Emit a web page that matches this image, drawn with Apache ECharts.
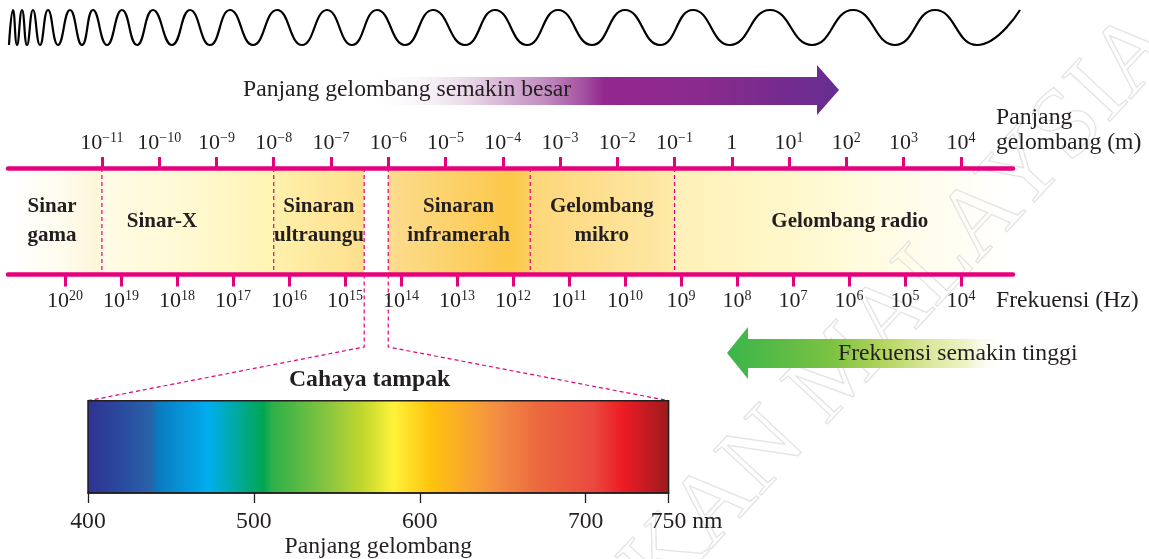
<!DOCTYPE html>
<html><head><meta charset="utf-8">
<script src="https://cdn.jsdelivr.net/npm/echarts@6/dist/echarts.min.js"></script>
<style>html,body{margin:0;padding:0;background:#fff}#c{width:1149px;height:559px}</style>
</head><body><div id="c"></div>
<script>
// ---------------- DATA ----------------
const wavelengthTickExp = [-11,-10,-9,-8,-7,-6,-5,-4,-3,-2,-1,0,1,2,3,4];
const frequencyTickExp = [20,19,18,17,16,15,14,13,12,11,10,9,8,7,6,5,4];
const regionNames = ['Sinar\ngama','Sinar-X','Sinaran\nultraungu','Sinaran\ninframerah','Gelombang\nmikro','Gelombang radio'];
const regionFromExp = [-12.64,-11,-8,-6.0,-3.52,-1];
const regionToExp   = [-11,-8,-6.42,-3.52,-1,4.91];
const regionLabelExp = [-11.87,-9.95,-7.21,-4.77,-2.27,2.06];
const boundaryExp = [-11,-8,-6.42,-6.0,-3.52,-1];
const visibleBandExp = [-6.42,-6.0];
const visibleTickNm = [400,500,600,700,750];
const visibleRangeNm = [400,750];
const spectrumNm = [400,421,438,443,473,506,511,546,566,584,607,634,648,670,704,722,750];
const spectrumColors = ['#2e3192','#2b4b9f','#2862a8','#0b7cc1','#00aeef','#00a651','#2cb04a','#8dc63f','#c2d82e','#fff23a','#ffc20e','#f7a035','#f38b45','#ec6a3e','#ea4a3f','#ed1c24','#9b1b1e'];
const wavePeakX = [13,22,33,48,70,93,122,153,190,230,277,327,377,433,495,558,625,693,770,853,935,1020];
const waveTroughX = [9,17,27,40,58,82,107,137,172,210,253,302,352,405,465,527,592,660,730,812,895,977];

// ---------------- STYLE ----------------
const SERIF = "'Liberation Serif', 'Times New Roman', serif";
const TXT = '#231f20';
const PINK = '#e6007e';
const FS = 23.7;
const bandStops = [
  [[0,'#ffffff'],[0.55,'#fffcf0'],[1,'#fdf5d6']],
  [[0,'#fffbe6'],[0.5,'#fff9d2'],[1,'#fff4b2']],
  [[0,'#fff1ac'],[1,'#fddf8c']],
  [[0,'#fddc8f'],[0.85,'#fcc84a'],[1,'#fdce5e']],
  [[0,'#fdd678'],[1,'#fee9a8']],
  [[0,'#fef1b8'],[0.3,'#fff7c8'],[0.7,'#fffdea'],[1,'#ffffff']]
];
function grad(stops){
  return {type:'linear',x:0,y:0,x2:1,y2:0,colorStops:stops.map(s=>({offset:s[0],color:s[1]}))};
}
function sup(e){
  e = Math.round(e);
  if (e === 0) return '{b|1}';
  return '{b|10}{s|' + (e < 0 ? '\u2212' + (-e) : e) + '}';
}
const richExp = {
  b:{fontSize:22,fontFamily:SERIF,color:TXT,lineHeight:24},
  s:{fontSize:14,fontFamily:SERIF,color:TXT,lineHeight:14,verticalAlign:'top'}
};

const wavePts = [];
wavePeakX.forEach(x=>wavePts.push([x,1]));
waveTroughX.forEach(x=>wavePts.push([x,0]));
wavePts.sort((a,b)=>a[0]-b[0]);

const chart = echarts.init(document.getElementById('c'), null, {renderer:'canvas'});

const option = {
  animation:false,
  backgroundColor:'#ffffff',
  textStyle:{fontFamily:SERIF,color:TXT},
  title:{text:'Cahaya tampak',left:284,top:363,textStyle:{fontFamily:SERIF,fontWeight:'bold',fontSize:FS,color:TXT}},
  grid:[
    {left:8,right:136,top:168,height:106.5,outerBoundsMode:'none',containLabel:false},
    {left:88,right:480.4,top:400.7,height:92.3,outerBoundsMode:'none',containLabel:false},
    {left:0,right:0,top:10,height:35,outerBoundsMode:'none',containLabel:false}
  ],
  xAxis:[
    {gridIndex:0,type:'value',position:'top',min:-12.64,max:4.91,z:10,
     axisLine:{show:true,onZero:false,lineStyle:{color:PINK,width:4.5}},
     axisTick:{show:true,customValues:wavelengthTickExp,length:11,lineStyle:{color:PINK,width:3}},
     axisLabel:{show:true,customValues:wavelengthTickExp,formatter:v=>sup(v),margin:13,rich:richExp},
     splitLine:{show:false},
     name:'Panjang\ngelombang (m)',nameLocation:'end',nameGap:-17,nameMoveOverlap:false,
     nameTextStyle:{fontFamily:SERIF,fontSize:FS,color:TXT,align:'left',verticalAlign:'bottom',lineHeight:25,padding:[0,0,13,0]}
    },
    {gridIndex:0,type:'value',position:'bottom',min:-21.018,max:-3.071,z:10,
     axisLine:{show:true,onZero:false,lineStyle:{color:PINK,width:4.5}},
     axisTick:{show:true,customValues:frequencyTickExp.map(f=>-f),length:12,lineStyle:{color:PINK,width:3}},
     axisLabel:{show:true,customValues:frequencyTickExp.map(f=>-f),formatter:v=>sup(-v),margin:15,rich:richExp},
     splitLine:{show:false},
     name:'Frekuensi (Hz)',nameLocation:'end',nameGap:-17,nameMoveOverlap:false,
     nameTextStyle:{fontFamily:SERIF,fontSize:FS,color:TXT,align:'left',verticalAlign:'top',lineHeight:25,padding:[14,0,0,0]}
    },
    {gridIndex:1,type:'value',position:'bottom',min:visibleRangeNm[0],max:visibleRangeNm[1],z:10,
     axisLine:{show:true,onZero:false,lineStyle:{color:TXT,width:1.5}},
     axisTick:{show:true,customValues:visibleTickNm,length:10,lineStyle:{color:TXT,width:1.3}},
     axisLabel:{show:true,customValues:visibleTickNm,margin:17,fontFamily:SERIF,fontSize:FS,color:TXT,
       formatter:v=> v===visibleRangeNm[1] ? '{p|x}'+v+'{u| nm}' : ''+v,
       rich:{p:{width:36,color:'transparent',fontSize:FS,fontFamily:SERIF},u:{fontSize:FS,fontFamily:SERIF,color:TXT}}},
     splitLine:{show:false},
     name:'Panjang gelombang',nameLocation:'middle',nameGap:42,nameMoveOverlap:false,
     nameTextStyle:{fontFamily:SERIF,fontSize:FS,color:TXT}
    },
    {gridIndex:2,type:'value',min:0,max:1149,show:false}
  ],
  yAxis:[
    {gridIndex:0,type:'value',min:0,max:1,show:false},
    {gridIndex:1,type:'value',min:0,max:1,show:false},
    {gridIndex:2,type:'value',min:0,max:1,show:false}
  ],
  series:[
    {type:'custom',name:'bands',xAxisIndex:0,yAxisIndex:0,
     data:regionNames.map((n,i)=>[regionFromExp[i],regionToExp[i],regionLabelExp[i],i]),
     renderItem:(params,api)=>{
       const i = api.value(3);
       const p0 = api.coord([api.value(0),1]);
       const p1 = api.coord([api.value(1),0]);
       const lab = api.coord([api.value(2),0.5]);
       return {type:'group',children:[
         {type:'rect',shape:{x:p0[0],y:p0[1],width:p1[0]-p0[0],height:p1[1]-p0[1]},style:{fill:grad(bandStops[i])}},
         {type:'text',x:lab[0],y:lab[1],style:{text:regionNames[i],fill:TXT,font:"bold 21px "+SERIF,align:'center',verticalAlign:'middle',lineHeight:29}}
       ]};
     }
    },
    {type:'custom',name:'boundaries',xAxisIndex:0,yAxisIndex:0,
     data:boundaryExp.map(e=>[e]),
     renderItem:(params,api)=>{
       const a = api.coord([api.value(0),1]);
       const b = api.coord([api.value(0),0]);
       return {type:'line',shape:{x1:a[0],y1:a[1],x2:b[0],y2:b[1]},style:{stroke:PINK,lineWidth:1.2,lineDash:[4,3]}};
     }
    },
    {type:'custom',name:'spectrum',xAxisIndex:2,yAxisIndex:1,
     data:[[visibleRangeNm[0],visibleRangeNm[1]]],
     renderItem:(params,api)=>{
       const a = api.coord([api.value(0),1]);
       const b = api.coord([api.value(1),0]);
       const span = visibleRangeNm[1]-visibleRangeNm[0];
       return {type:'rect',shape:{x:a[0],y:a[1],width:b[0]-a[0],height:b[1]-a[1]},
         style:{stroke:TXT,lineWidth:1.5,fill:{type:'linear',x:0,y:0,x2:1,y2:0,
           colorStops:spectrumNm.map((nm,k)=>({offset:(nm-visibleRangeNm[0])/span,color:spectrumColors[k]}))}}};
     }
    },
    {type:'line',name:'wave',xAxisIndex:3,yAxisIndex:2,data:wavePts,symbol:'none',smooth:0.5,clip:false,
     lineStyle:{color:'#000',width:2.2}}
  ],
  graphic:{elements:[
    {type:'text',id:'wm',x:1160,y:29,rotation:47*Math.PI/180,silent:true,z:3,
     style:{text:'PENDIDIKAN MALAYSIA',font:"100px "+SERIF,fill:'rgba(0,0,0,0)',stroke:'#e4e4e4',lineWidth:1.3,align:'right',verticalAlign:'middle'}},
    {type:'group',id:'purpleArrow',z:5,children:[
      {type:'polygon',z:5,shape:{points:[[350,77],[817,77],[817,65],[839,90],[817,115],[817,105],[350,105]]},
       style:{fill:grad([[0.03,'rgba(255,255,255,0)'],[0.24,'#ead8e9'],[0.40,'#c18bbf'],[0.48,'#a34fa0'],[0.52,'#93278f'],[0.72,'#8a2a8d'],[0.93,'#6f2c8f'],[1,'#662d91']])}},
      {type:'text',z:6,x:243,y:90,style:{text:'Panjang gelombang semakin besar',font:FS+"px "+SERIF,fill:TXT,align:'left',verticalAlign:'middle'}}
    ]},
    {type:'group',id:'greenArrow',z:5,children:[
      {type:'polygon',z:5,shape:{points:[[727,353],[748,327],[748,339],[1005,339],[1005,368],[748,368],[748,379]]},
       style:{fill:grad([[0,'#39b54a'],[0.38,'#7dc242'],[0.55,'#b0d35a'],[0.72,'#d9e79a'],[0.86,'#eef3c4'],[1,'rgba(255,255,255,0)']])}},
      {type:'text',z:6,x:838,y:354,style:{text:'Frekuensi semakin tinggi',font:FS+"px "+SERIF,fill:TXT,align:'left',verticalAlign:'middle'}}
    ]}
  ]}
};
chart.setOption(option);

// connectors from the visible-light gap to the spectrum box, via the library's scales
const DROP_Y = 347;
const gapL = chart.convertToPixel({seriesIndex:1},[visibleBandExp[0],0]);
const gapR = chart.convertToPixel({seriesIndex:1},[visibleBandExp[1],0]);
const specL = chart.convertToPixel({seriesIndex:2},[visibleRangeNm[0],1]);
const specR = chart.convertToPixel({seriesIndex:2},[visibleRangeNm[1],1]);
chart.setOption({graphic:{elements:[
  {type:'polyline',id:'connL',shape:{points:[gapL,[gapL[0],DROP_Y],specL]},style:{stroke:PINK,lineWidth:1.2,lineDash:[4,3],fill:null}},
  {type:'polyline',id:'connR',shape:{points:[gapR,[gapR[0],DROP_Y],specR]},style:{stroke:PINK,lineWidth:1.2,lineDash:[4,3],fill:null}}
]}});
</script></body></html>
